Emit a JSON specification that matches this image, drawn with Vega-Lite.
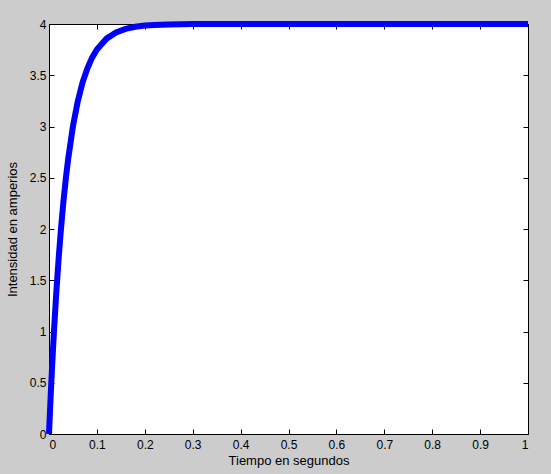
{
  "$schema": "https://vega.github.io/schema/vega-lite/v6.json",
  "width": 479,
  "height": 410,
  "autosize": {"type": "none"},
  "padding": {"left": 49, "top": 24, "right": 23, "bottom": 40},
  "background": "#cccccc",
  "config": {
    "view": {"fill": "white", "stroke": null},
    "axis": {
      "domainColor": "black", "domainWidth": 1,
      "tickColor": "black", "tickSize": -5, "tickWidth": 1,
      "labelFont": "Liberation Sans", "labelFontSize": 12, "labelColor": "black",
      "titleFont": "Liberation Sans", "titleFontSize": 13, "titleFontWeight": "normal", "titleColor": "black",
      "grid": false, "labelPadding": 8
    }
  },
  "data": {"values": [
    {"t": 0, "i": 0},
    {"t": 0.002, "i": 0.216},
    {"t": 0.004, "i": 0.421},
    {"t": 0.006, "i": 0.614},
    {"t": 0.008, "i": 0.797},
    {"t": 0.01, "i": 0.970},
    {"t": 0.015, "i": 1.363},
    {"t": 0.02, "i": 1.705},
    {"t": 0.025, "i": 2.002},
    {"t": 0.03, "i": 2.261},
    {"t": 0.035, "i": 2.487},
    {"t": 0.04, "i": 2.683},
    {"t": 0.05, "i": 3.002},
    {"t": 0.06, "i": 3.244},
    {"t": 0.07, "i": 3.428},
    {"t": 0.08, "i": 3.566},
    {"t": 0.09, "i": 3.672},
    {"t": 0.1, "i": 3.751},
    {"t": 0.12, "i": 3.857},
    {"t": 0.14, "i": 3.918},
    {"t": 0.16, "i": 3.953},
    {"t": 0.18, "i": 3.973},
    {"t": 0.2, "i": 3.985},
    {"t": 0.22, "i": 3.991},
    {"t": 0.25, "i": 3.996},
    {"t": 0.3, "i": 3.999},
    {"t": 0.4, "i": 4.0},
    {"t": 0.5, "i": 4.0},
    {"t": 0.6, "i": 4.0},
    {"t": 0.7, "i": 4.0},
    {"t": 0.8, "i": 4.0},
    {"t": 0.9, "i": 4.0},
    {"t": 1.0, "i": 4.0}
  ]},
  "layer": [
    {
      "mark": {"type": "line", "color": "#0000ff", "strokeWidth": 6, "clip": false},
      "encoding": {
        "x": {"field": "t", "type": "quantitative", "scale": {"domain": [0, 1], "nice": false},
              "axis": {"title": "Tiempo en segundos", "values": [0,0.1,0.2,0.3,0.4,0.5,0.6,0.7,0.8,0.9,1], "format": "~g", "labelPadding": 10, "titlePadding": 4}},
        "y": {"field": "i", "type": "quantitative", "scale": {"domain": [0, 4], "nice": false},
              "axis": {"title": "Intensidad en amperios", "values": [0,0.5,1,1.5,2,2.5,3,3.5,4], "format": "~g", "titlePadding": 10}}
      }
    },
    {
      "mark": {"type": "line", "opacity": 0},
      "encoding": {
        "x": {"field": "t", "type": "quantitative",
              "axis": {"orient": "top", "title": null, "labels": false, "values": [0,0.1,0.2,0.3,0.4,0.5,0.6,0.7,0.8,0.9,1]}},
        "y": {"field": "i", "type": "quantitative",
              "axis": {"orient": "right", "title": null, "labels": false, "values": [0,0.5,1,1.5,2,2.5,3,3.5,4]}}
      }
    }
  ],
  "resolve": {"axis": {"x": "independent", "y": "independent"}}
}
